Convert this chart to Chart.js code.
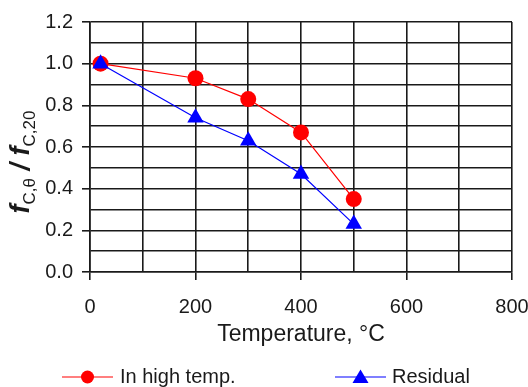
<!DOCTYPE html>
<html>
<head>
<meta charset="utf-8">
<script src="https://cdn.jsdelivr.net/npm/chart.js@4"></script>
<style>
html,body{margin:0;padding:0;background:#fff;}
#wrap{width:528px;height:387px;position:relative;}
</style>
</head>
<body>
<div id="wrap"><canvas id="c" width="528" height="387"></canvas></div>
<script>
// ---- data ----
const temperatures = [20, 200, 300, 400, 500];
const highTempValues = [1.00, 0.93, 0.83, 0.67, 0.35];
const residualValues = [1.00, 0.74, 0.63, 0.47, 0.23];
const seriesNames = ['In high temp.', 'Residual'];
const xTitle = 'Temperature, \u00B0C';

const FONT = '"Liberation Sans", Arial, sans-serif';
const INK = '#1a1a1a';

const toPoints = (xs, ys) => xs.map((x, i) => ({x: x, y: ys[i]}));

const bgPlugin = {
  id: 'bg',
  beforeDraw(chart) {
    const c = chart.ctx;
    c.save();
    c.fillStyle = '#fff';
    c.fillRect(0, 0, chart.width, chart.height);
    c.restore();
  }
};

// y-axis title with subscripts
const yTitlePlugin = {
  id: 'ytitle',
  afterDraw(chart) {
    const c = chart.ctx;
    const parts = [
      {t: 'f', f: 'italic bold 27px ' + FONT, dy: 0},
      {t: 'C,\u03B8', f: '17px ' + FONT, dy: 6},
      {t: ' / ', f: 'italic bold 27px ' + FONT, dy: 0},
      {t: 'f', f: 'italic bold 27px ' + FONT, dy: 0},
      {t: 'C,20', f: '17px ' + FONT, dy: 6}
    ];
    c.save();
    let total = 0;
    parts.forEach(p => { c.font = p.f; p.w = c.measureText(p.t).width; total += p.w; });
    c.translate(29, 162);
    c.rotate(-Math.PI / 2);
    c.fillStyle = INK;
    c.textBaseline = 'alphabetic';
    let x = -total / 2;
    parts.forEach(p => { c.font = p.f; c.fillText(p.t, x, p.dy); x += p.w; });
    c.restore();
  }
};

// legend: line + marker + text
const legendPlugin = {
  id: 'customLegend',
  afterDraw(chart) {
    const c = chart.ctx;
    const y = 377;
    const items = [
      {x0: 62, x1: 113, color: '#ff0000', shape: 'circle', text: seriesNames[0], tx: 120},
      {x0: 335, x1: 386, color: '#0000ff', shape: 'triangle', text: seriesNames[1], tx: 392}
    ];
    c.save();
    items.forEach(it => {
      c.strokeStyle = it.color;
      c.lineWidth = 1.2;
      c.beginPath(); c.moveTo(it.x0, y); c.lineTo(it.x1, y); c.stroke();
      const cx = (it.x0 + it.x1) / 2;
      c.fillStyle = it.color;
      c.beginPath();
      if (it.shape === 'circle') {
        c.arc(cx, y, 6.5, 0, Math.PI * 2);
      } else {
        c.moveTo(cx, y - 7.5); c.lineTo(cx + 8, y + 6); c.lineTo(cx - 8, y + 6); c.closePath();
      }
      c.fill();
      c.fillStyle = INK;
      c.font = '20px ' + FONT;
      c.textBaseline = 'alphabetic';
      c.fillText(it.text, it.tx, 383);
    });
    c.restore();
  }
};

new Chart(document.getElementById('c'), {
  type: 'scatter',
  data: {
    datasets: [
      {
        label: seriesNames[0],
        data: toPoints(temperatures, highTempValues),
        showLine: true,
        borderColor: '#ff0000',
        backgroundColor: '#ff0000',
        borderWidth: 1.2,
        pointStyle: 'circle',
        pointRadius: 8,
        pointBorderWidth: 0,
        pointHoverRadius: 8,
        order: 2
      },
      {
        label: seriesNames[1],
        data: toPoints(temperatures, residualValues),
        showLine: true,
        borderColor: '#0000ff',
        backgroundColor: '#0000ff',
        borderWidth: 1.2,
        pointStyle: 'triangle',
        pointRadius: 9.5,
        pointBorderWidth: 0,
        pointHoverRadius: 9.5,
        order: 1
      }
    ]
  },
  options: {
    responsive: false,
    animation: false,
    layout: {padding: {top: 22, right: 16, bottom: 35, left: 0}},
    plugins: {legend: {display: false}, tooltip: {enabled: false}},
    scales: {
      x: {
        type: 'linear',
        min: 0, max: 800,
        afterFit(s) { s.height = 80; s.paddingRight = 0; s.paddingLeft = 0; },
        ticks: {
          stepSize: 100,
          autoSkip: false,
          padding: 15,
          color: INK,
          font: {family: FONT, size: 20},
          maxRotation: 0,
          callback: (v, i) => (i % 2 === 0 ? String(Math.round(v)) : '')
        },
        grid: {
          color: INK,
          lineWidth: 1.6,
          tickLength: 8,
          tickColor: ctx => (ctx.index % 2 === 0 ? INK : 'rgba(0,0,0,0)')
        },
        border: {color: INK, width: 1.6},
        title: {
          display: true,
          text: xTitle,
          color: INK,
          font: {family: FONT, size: 23},
          padding: {top: 0, bottom: 4}
        }
      },
      y: {
        type: 'linear',
        min: 0, max: 1.2,
        afterFit(s) { s.width = 90; },
        ticks: {
          stepSize: 0.1,
          autoSkip: false,
          padding: 9,
          color: INK,
          font: {family: FONT, size: 20},
          callback: (v, i) => (i % 2 === 0 ? Number(v).toFixed(1) : '')
        },
        grid: {
          color: INK,
          lineWidth: 1.6,
          tickLength: 8,
          tickColor: ctx => (ctx.index % 2 === 0 ? INK : 'rgba(0,0,0,0)')
        },
        border: {color: INK, width: 1.6}
      }
    }
  },
  plugins: [bgPlugin, yTitlePlugin, legendPlugin]
});
</script>
</body>
</html>
